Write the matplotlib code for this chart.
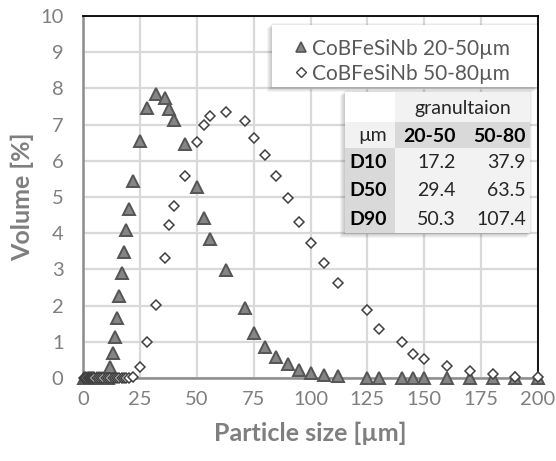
import matplotlib
matplotlib.use("Agg")
import matplotlib.pyplot as plt
from matplotlib.patches import Rectangle
from matplotlib.lines import Line2D

plt.rcParams['font.family'] = ['Lato', 'DejaVu Sans']

# ---- data ----
sizes = [0.5, 1, 1.5, 2, 2.5, 3, 3.5, 4, 4.5, 5, 6, 7, 8, 9, 10, 11,
         12, 13, 14, 15, 16, 17, 18, 19, 20, 22, 25, 28, 32, 36, 38, 40,
         45, 50, 53, 56, 63, 71, 75, 80, 85, 90, 95, 100, 106, 112,
         125, 130, 140, 145, 150, 160, 170, 180, 190, 200]
vol_20_50 = [0, 0, 0, 0, 0, 0, 0, 0, 0, 0, 0, 0, 0, 0, 0, 0,
             0.30, 0.70, 1.14, 1.67, 2.27, 2.89, 3.49, 4.09, 4.66, 5.45, 6.56, 7.46, 7.84, 7.73, 7.42, 7.13,
             6.46, 5.28, 4.43, 3.84, 2.98, 1.94, 1.23, 0.86, 0.59, 0.38, 0.22, 0.13, 0.08, 0.05,
             0, 0, 0, 0, 0, 0, 0, 0, 0, 0]
vol_50_80 = [0, 0, 0, 0, 0, 0, 0, 0, 0, 0, 0, 0, 0, 0, 0, 0,
             0, 0, 0, 0, 0, 0, 0, 0, 0, 0.03, 0.30, 0.99, 2.03, 3.32, 4.23, 4.76,
             5.58, 6.53, 7.00, 7.24, 7.36, 7.10, 6.62, 6.16, 5.58, 4.98, 4.30, 3.74, 3.17, 2.62,
             1.88, 1.35, 1.00, 0.65, 0.52, 0.34, 0.19, 0.10, 0.04, 0.02]
series_labels = ["CoBFeSiNb 20-50µm", "CoBFeSiNb 50-80µm"]
x_ticks = [0, 25, 50, 75, 100, 125, 150, 175, 200]
y_ticks = list(range(0, 11))

table_title = "granultaion"
table_unit = "µm"
table_cols = ["20-50", "50-80"]
table_rows = ["D10", "D50", "D90"]
table_vals = [["17.2", "37.9"], ["29.4", "63.5"], ["50.3", "107.4"]]

W, H = 556, 461
fig = plt.figure(figsize=(W / 100, H / 100), dpi=100)
ax = fig.add_axes([83 / W, 1 - 378 / H, (538 - 83) / W, (378 - 16) / H])

def P(x, y):
    return (x / W, 1 - y / H)

grid_c = '#d9d9d9'
ax.set_xlim(0, 200)
ax.set_ylim(0, 10)
ax.set_xticks(x_ticks)
ax.set_yticks(y_ticks)
ax.grid(True, color=grid_c, linewidth=1.6, zorder=0)
ax.set_axisbelow(True)
ax.tick_params(length=0, labelsize=14.5, colors='#7f7f7f')
ax.tick_params(axis='y', pad=14)
ax.tick_params(axis='x', pad=9)
ax.spines['top'].set_color('black')
ax.spines['right'].set_color('black')
ax.spines['top'].set_linewidth(1.3)
ax.spines['right'].set_linewidth(1.3)
ax.spines['left'].set_color('#8c8c8c')
ax.spines['bottom'].set_color('#8c8c8c')
ax.spines['left'].set_linewidth(1.8)
ax.spines['bottom'].set_linewidth(1.8)

ax.plot(sizes, vol_20_50, linestyle='none', marker='^', markersize=8,
        markerfacecolor='#858585', markeredgecolor='#555555', markeredgewidth=1.4,
        clip_on=False, zorder=3)
ax.plot(sizes, vol_50_80, linestyle='none', marker='D', markersize=5.2,
        markerfacecolor='white', markeredgecolor='#404040', markeredgewidth=1.1,
        clip_on=False, zorder=4)

ax.set_xlabel("Particle size [µm]", fontsize=18, fontweight='bold', color='#7f7f7f', labelpad=10)
ax.set_ylabel("Volume [%]", fontsize=18, fontweight='bold', color='#7f7f7f', labelpad=4)

# ---- shadows helper ----
def shadow_box(x0, y0, x1, y1, z):
    for i in range(6):
        off = 6 - i
        r = Rectangle(P(x0 - off + 1, y1 + off - 1), (x1 - x0 + 2) / W, (y1 - y0 + 2) / H,
                      transform=fig.transFigure, facecolor='#000000', alpha=0.045,
                      edgecolor='none', zorder=z)
        fig.add_artist(r)

# ---- legend box ----
lx0, ly0, lx1, ly1 = 272, 25, 537, 87
shadow_box(lx0, ly0, lx1, ly1, 5)
fig.add_artist(Rectangle(P(lx0, ly1), (lx1 - lx0) / W, (ly1 - ly0) / H,
                         transform=fig.transFigure, facecolor='white',
                         edgecolor='none', zorder=6))
handles = [
    Line2D([], [], linestyle='none', marker='^', markersize=7, markerfacecolor='#858585',
           markeredgecolor='#555555', markeredgewidth=1.2),
    Line2D([], [], linestyle='none', marker='D', markersize=4.6, markerfacecolor='white',
           markeredgecolor='#404040', markeredgewidth=1.0),
]
leg = fig.legend(handles, series_labels, loc='upper left', bbox_to_anchor=P(281, 24),
                 bbox_transform=fig.transFigure, frameon=False, fontsize=15,
                 handlelength=0.5, handletextpad=0.3, labelspacing=0.25,
                 borderpad=0.2, labelcolor='#595959')
leg.set_zorder(7)

# ---- table ----
cx = [345, 395, 460, 530]
ry = [92, 122, 148, 175, 203, 233]
shadow_box(cx[0], ry[0], cx[-1], ry[-1], 5)
light, dark = '#f2f2f2', '#d9d9d9'

def cell(c0, c1, r0, r1, color):
    fig.add_artist(Rectangle(P(cx[c0], ry[r1]), (cx[c1] - cx[c0]) / W,
                             (ry[r1] - ry[r0]) / H, transform=fig.transFigure,
                             facecolor=color, edgecolor='none', zorder=6))

cell(0, 1, 0, 1, 'white')
cell(1, 3, 0, 1, light)
cell(0, 1, 1, 2, light)
cell(1, 3, 1, 2, dark)
cell(0, 1, 2, 5, dark)
cell(1, 3, 2, 5, light)

fs = 14
def ymid(r):
    return (ry[r] + ry[r + 1]) / 2 + 1

fig.text(*P((cx[1] + cx[3]) / 2, ymid(0)), table_title, ha='center', va='center',
         fontsize=fs, color='#262626', zorder=8)
fig.text(*P(cx[1] - 8, ymid(1)), table_unit, ha='right', va='center',
         fontsize=fs, color='#262626', zorder=8)
for j, c in enumerate(table_cols):
    fig.text(*P(cx[j + 2] - 4, ymid(1)), c, ha='right', va='center', fontsize=fs,
             fontweight='bold', color='black', zorder=8)
for i, rlab in enumerate(table_rows):
    fig.text(*P(cx[0] + 4, ymid(i + 2)), rlab, ha='left', va='center', fontsize=fs,
             fontweight='bold', color='black', zorder=8)
    for j, v in enumerate(table_vals[i]):
        fig.text(*P(cx[j + 2] - 4, ymid(i + 2)), v, ha='right', va='center', fontsize=fs,
                 color='#262626', zorder=8)

fig.savefig("out.png", dpi=100)
